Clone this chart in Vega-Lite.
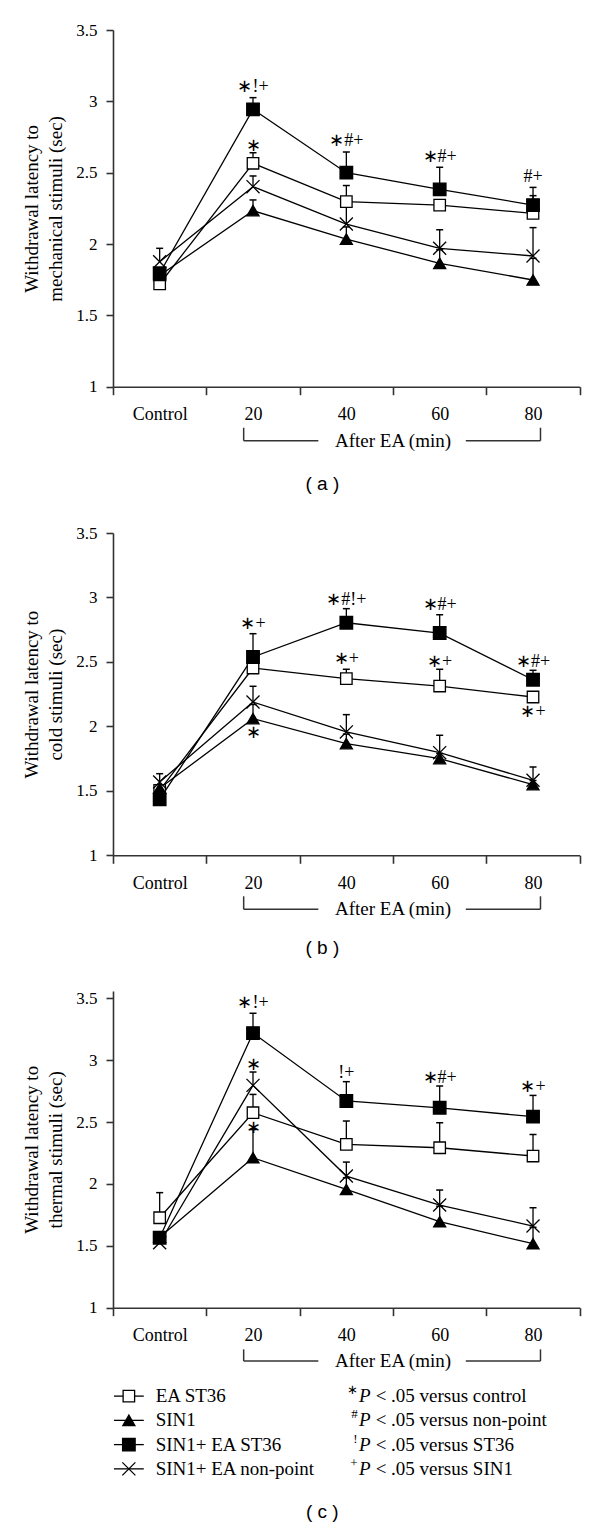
{
  "$schema": "https://vega.github.io/schema/vega-lite/v6.json",
  "background": "white",
  "padding": {"left": 22, "top": 21, "right": 5, "bottom": 5},
  "config": {
    "font": "Liberation Serif",
    "view": {"stroke": null},
    "axis": {"domainColor": "#333", "domainWidth": 1.6, "tickColor": "#333", "tickWidth": 1.6, "labelColor": "black", "labelFont": "Liberation Serif", "labelFontSize": 17, "titleFont": "Liberation Serif", "titleFontSize": 19, "titleFontWeight": "normal", "titleColor": "black", "grid": false},
    "axisY": {"tickSize": 7, "labelPadding": 9, "titlePadding": 10, "titleLineHeight": 24},
    "axisX": {"tickSize": 8, "labelPadding": 11, "labelAngle": 0, "tickBand": "extent", "labelFontSize": 18},
    "title": {"font": "Liberation Sans", "fontSize": 19, "fontWeight": "normal", "color": "black"},
    "text": {"font": "Liberation Serif", "color": "black"}
  },
  "datasets": {
    "means": [
      {"panel": "a", "series": "EA ST36", "time": "Control", "mean": 1.72, "upper": null},
      {"panel": "a", "series": "EA ST36", "time": "20", "mean": 2.566, "upper": 2.64},
      {"panel": "a", "series": "EA ST36", "time": "40", "mean": 2.297, "upper": 2.41},
      {"panel": "a", "series": "EA ST36", "time": "60", "mean": 2.273, "upper": null},
      {"panel": "a", "series": "EA ST36", "time": "80", "mean": 2.215, "upper": 2.339},
      {"panel": "a", "series": "SIN1", "time": "Control", "mean": 1.78, "upper": null},
      {"panel": "a", "series": "SIN1", "time": "20", "mean": 2.234, "upper": 2.309},
      {"panel": "a", "series": "SIN1", "time": "40", "mean": 2.035, "upper": 2.12},
      {"panel": "a", "series": "SIN1", "time": "60", "mean": 1.865, "upper": 1.96},
      {"panel": "a", "series": "SIN1", "time": "80", "mean": 1.748, "upper": 1.9},
      {"panel": "a", "series": "SIN1+ EA ST36", "time": "Control", "mean": 1.795, "upper": null},
      {"panel": "a", "series": "SIN1+ EA ST36", "time": "20", "mean": 2.944, "upper": 3.026},
      {"panel": "a", "series": "SIN1+ EA ST36", "time": "40", "mean": 2.5, "upper": 2.645},
      {"panel": "a", "series": "SIN1+ EA ST36", "time": "60", "mean": 2.383, "upper": 2.538},
      {"panel": "a", "series": "SIN1+ EA ST36", "time": "80", "mean": 2.273, "upper": 2.397},
      {"panel": "a", "series": "SIN1+ EA non-point", "time": "Control", "mean": 1.876, "upper": 1.97},
      {"panel": "a", "series": "SIN1+ EA non-point", "time": "20", "mean": 2.402, "upper": 2.477},
      {"panel": "a", "series": "SIN1+ EA non-point", "time": "40", "mean": 2.14, "upper": 2.28},
      {"panel": "a", "series": "SIN1+ EA non-point", "time": "60", "mean": 1.97, "upper": 2.1},
      {"panel": "a", "series": "SIN1+ EA non-point", "time": "80", "mean": 1.916, "upper": 2.115},

      {"panel": "b", "series": "EA ST36", "time": "Control", "mean": 1.504, "upper": null},
      {"panel": "b", "series": "EA ST36", "time": "20", "mean": 2.453, "upper": null},
      {"panel": "b", "series": "EA ST36", "time": "40", "mean": 2.37, "upper": 2.443},
      {"panel": "b", "series": "EA ST36", "time": "60", "mean": 2.313, "upper": 2.443},
      {"panel": "b", "series": "EA ST36", "time": "80", "mean": 2.228, "upper": null},
      {"panel": "b", "series": "SIN1", "time": "Control", "mean": 1.52, "upper": null},
      {"panel": "b", "series": "SIN1", "time": "20", "mean": 2.06, "upper": 2.17},
      {"panel": "b", "series": "SIN1", "time": "40", "mean": 1.866, "upper": 1.94},
      {"panel": "b", "series": "SIN1", "time": "60", "mean": 1.75, "upper": 1.79},
      {"panel": "b", "series": "SIN1", "time": "80", "mean": 1.548, "upper": 1.58},
      {"panel": "b", "series": "SIN1+ EA ST36", "time": "Control", "mean": 1.434, "upper": null},
      {"panel": "b", "series": "SIN1+ EA ST36", "time": "20", "mean": 2.538, "upper": 2.719},
      {"panel": "b", "series": "SIN1+ EA ST36", "time": "40", "mean": 2.804, "upper": 2.913},
      {"panel": "b", "series": "SIN1+ EA ST36", "time": "60", "mean": 2.724, "upper": 2.866},
      {"panel": "b", "series": "SIN1+ EA ST36", "time": "80", "mean": 2.362, "upper": 2.435},
      {"panel": "b", "series": "SIN1+ EA non-point", "time": "Control", "mean": 1.569, "upper": 1.633},
      {"panel": "b", "series": "SIN1+ EA non-point", "time": "20", "mean": 2.189, "upper": 2.311},
      {"panel": "b", "series": "SIN1+ EA non-point", "time": "40", "mean": 1.957, "upper": 2.091},
      {"panel": "b", "series": "SIN1+ EA non-point", "time": "60", "mean": 1.796, "upper": 1.931},
      {"panel": "b", "series": "SIN1+ EA non-point", "time": "80", "mean": 1.582, "upper": 1.685},

      {"panel": "c", "series": "EA ST36", "time": "Control", "mean": 1.727, "upper": 1.93},
      {"panel": "c", "series": "EA ST36", "time": "20", "mean": 2.576, "upper": 2.724},
      {"panel": "c", "series": "EA ST36", "time": "40", "mean": 2.32, "upper": 2.509},
      {"panel": "c", "series": "EA ST36", "time": "60", "mean": 2.293, "upper": 2.495},
      {"panel": "c", "series": "EA ST36", "time": "80", "mean": 2.226, "upper": 2.4},
      {"panel": "c", "series": "SIN1", "time": "Control", "mean": 1.57, "upper": null},
      {"panel": "c", "series": "SIN1", "time": "20", "mean": 2.212, "upper": 2.44},
      {"panel": "c", "series": "SIN1", "time": "40", "mean": 1.956, "upper": 2.05},
      {"panel": "c", "series": "SIN1", "time": "60", "mean": 1.695, "upper": 1.82},
      {"panel": "c", "series": "SIN1", "time": "80", "mean": 1.517, "upper": 1.65},
      {"panel": "c", "series": "SIN1+ EA ST36", "time": "Control", "mean": 1.565, "upper": null},
      {"panel": "c", "series": "SIN1+ EA ST36", "time": "20", "mean": 3.22, "upper": 3.38},
      {"panel": "c", "series": "SIN1+ EA ST36", "time": "40", "mean": 2.671, "upper": 2.827},
      {"panel": "c", "series": "SIN1+ EA ST36", "time": "60", "mean": 2.616, "upper": 2.792},
      {"panel": "c", "series": "SIN1+ EA ST36", "time": "80", "mean": 2.544, "upper": 2.716},
      {"panel": "c", "series": "SIN1+ EA non-point", "time": "Control", "mean": 1.525, "upper": null},
      {"panel": "c", "series": "SIN1+ EA non-point", "time": "20", "mean": 2.797, "upper": 2.905},
      {"panel": "c", "series": "SIN1+ EA non-point", "time": "40", "mean": 2.064, "upper": 2.177},
      {"panel": "c", "series": "SIN1+ EA non-point", "time": "60", "mean": 1.83, "upper": 1.951},
      {"panel": "c", "series": "SIN1+ EA non-point", "time": "80", "mean": 1.66, "upper": 1.808}
    ],
    "notes": [
      {"panel": "a", "time": "20", "label": "∗!+", "y": 3.098},
      {"panel": "a", "time": "20", "label": "∗", "y": 2.687},
      {"panel": "a", "time": "40", "label": "∗#+", "y": 2.724},
      {"panel": "a", "time": "60", "label": "∗#+", "y": 2.612},
      {"panel": "a", "time": "80", "label": "#+", "y": 2.468},
      {"panel": "b", "time": "20", "label": "∗+", "y": 2.794},
      {"panel": "b", "time": "20", "label": "∗", "y": 1.951},
      {"panel": "b", "time": "40", "label": "∗#!+", "y": 2.978},
      {"panel": "b", "time": "40", "label": "∗+", "y": 2.525},
      {"panel": "b", "time": "60", "label": "∗#+", "y": 2.944},
      {"panel": "b", "time": "60", "label": "∗+", "y": 2.5},
      {"panel": "b", "time": "80", "label": "∗#+", "y": 2.5},
      {"panel": "b", "time": "80", "label": "∗+", "y": 2.112},
      {"panel": "c", "time": "20", "label": "∗!+", "y": 3.46},
      {"panel": "c", "time": "20", "label": "∗", "y": 2.958},
      {"panel": "c", "time": "20", "label": "∗", "y": 2.455},
      {"panel": "c", "time": "40", "label": "!+", "y": 2.9},
      {"panel": "c", "time": "60", "label": "∗#+", "y": 2.859},
      {"panel": "c", "time": "80", "label": "∗+", "y": 2.786}
    ],
    "legend": [
      {"series": "EA ST36", "sym": "∗", "note": "< .05 versus control"},
      {"series": "SIN1", "sym": "#", "note": "< .05 versus non-point"},
      {"series": "SIN1+ EA ST36", "sym": "!", "note": "< .05 versus ST36"},
      {"series": "SIN1+ EA non-point", "sym": "+", "note": "< .05 versus SIN1"}
    ]
  },
  "spacing": 30,
  "vconcat": [
    {
      "width": 466.7, "height": 356.7,
      "title": {"text": "( a )", "orient": "bottom", "frame": "group", "anchor": "middle", "dx": -24, "offset": 24},
      "layer": [
        {
          "data": {"name": "means"},
          "transform": [{"filter": "datum.panel == 'a'"}],
          "encoding": {
            "x": {"field": "time", "type": "nominal", "sort": ["Control", "20", "40", "60", "80"], "scale": {"type": "band", "domain": ["Control", "20", "40", "60", "80"], "paddingInner": 0, "paddingOuter": 0}, "axis": {"title": null}},
            "y": {"field": "mean", "type": "quantitative", "scale": {"domain": [1, 3.5], "nice": false, "zero": false}, "axis": {"values": [1, 1.5, 2, 2.5, 3, 3.5], "format": "~g", "title": ["Withdrawal latency to", "mechanical stimuli (sec)"]}}
          },
          "layer": [
            {"mark": {"type": "line", "color": "black", "strokeWidth": 1.3}, "encoding": {"detail": {"field": "series"}}},
            {"transform": [{"filter": "datum.upper != null"}], "mark": {"type": "rule", "color": "black", "strokeWidth": 1.3}, "encoding": {"y2": {"field": "upper"}}},
            {"transform": [{"filter": "datum.upper != null"}], "mark": {"type": "tick", "color": "black", "size": 7, "thickness": 1.5, "opacity": 1}, "encoding": {"y": {"field": "upper", "type": "quantitative"}}},
            {"mark": {"type": "point", "filled": true, "stroke": "black", "strokeWidth": 1.3, "opacity": 1},
             "encoding": {
               "shape": {"field": "series", "type": "nominal", "scale": {"domain": ["EA ST36", "SIN1", "SIN1+ EA ST36", "SIN1+ EA non-point"], "range": ["square", "triangle-up", "square", "M-1,-1L1,1M-1,1L1,-1"]}, "legend": null},
               "fill": {"field": "series", "type": "nominal", "scale": {"domain": ["EA ST36", "SIN1", "SIN1+ EA ST36", "SIN1+ EA non-point"], "range": ["white", "black", "black", "transparent"]}, "legend": null},
               "size": {"field": "series", "type": "nominal", "scale": {"domain": ["EA ST36", "SIN1", "SIN1+ EA ST36", "SIN1+ EA non-point"], "range": [132, 170, 132, 144]}, "legend": null}
             }}
          ]
        },
        {
          "data": {"name": "notes"},
          "transform": [{"filter": "datum.panel == 'a'"}],
          "mark": {"type": "text", "fontSize": 18, "baseline": "middle"},
          "encoding": {"x": {"field": "time", "type": "nominal"}, "y": {"field": "y", "type": "quantitative"}, "text": {"field": "label"}}
        },
        {
          "data": {"values": [{}]},
          "layer": [
            {"mark": {"type": "rule", "color": "#333", "strokeWidth": 1.5}, "encoding": {"x": {"datum": "20", "type": "nominal", "bandPosition": 0.4}, "y": {"datum": 0.6215, "type": "quantitative"}, "y2": {"datum": 0.7126}}},
            {"mark": {"type": "rule", "color": "#333", "strokeWidth": 1.5}, "encoding": {"x": {"datum": "20", "type": "nominal", "bandPosition": 0.4}, "x2": {"datum": "40", "bandPosition": 0.2}, "y": {"datum": 0.6215, "type": "quantitative"}}},
            {"mark": {"type": "rule", "color": "#333", "strokeWidth": 1.5}, "encoding": {"x": {"datum": "60", "type": "nominal", "bandPosition": 0.78}, "x2": {"datum": "80", "bandPosition": 0.58}, "y": {"datum": 0.6215, "type": "quantitative"}}},
            {"mark": {"type": "rule", "color": "#333", "strokeWidth": 1.5}, "encoding": {"x": {"datum": "80", "type": "nominal", "bandPosition": 0.58}, "y": {"datum": 0.6215, "type": "quantitative"}, "y2": {"datum": 0.7126}}},
            {"mark": {"type": "text", "fontSize": 19, "baseline": "middle"}, "encoding": {"x": {"datum": "60", "type": "nominal", "bandPosition": 0}, "y": {"datum": 0.6215, "type": "quantitative"}, "text": {"value": "After EA (min)"}}}
          ]
        }
      ]
    },
    {
      "width": 466.7, "height": 322.3,
      "title": {"text": "( b )", "orient": "bottom", "frame": "group", "anchor": "middle", "dx": -24, "offset": 20},
      "layer": [
        {
          "data": {"name": "means"},
          "transform": [{"filter": "datum.panel == 'b'"}],
          "encoding": {
            "x": {"field": "time", "type": "nominal", "sort": ["Control", "20", "40", "60", "80"], "scale": {"type": "band", "domain": ["Control", "20", "40", "60", "80"], "paddingInner": 0, "paddingOuter": 0}, "axis": {"title": null}},
            "y": {"field": "mean", "type": "quantitative", "scale": {"domain": [1, 3.5], "nice": false, "zero": false}, "axis": {"values": [1, 1.5, 2, 2.5, 3, 3.5], "format": "~g", "title": ["Withdrawal latency to", "cold stimuli (sec)"]}}
          },
          "layer": [
            {"mark": {"type": "line", "color": "black", "strokeWidth": 1.3}, "encoding": {"detail": {"field": "series"}}},
            {"transform": [{"filter": "datum.upper != null"}], "mark": {"type": "rule", "color": "black", "strokeWidth": 1.3}, "encoding": {"y2": {"field": "upper"}}},
            {"transform": [{"filter": "datum.upper != null"}], "mark": {"type": "tick", "color": "black", "size": 7, "thickness": 1.5, "opacity": 1}, "encoding": {"y": {"field": "upper", "type": "quantitative"}}},
            {"mark": {"type": "point", "filled": true, "stroke": "black", "strokeWidth": 1.3, "opacity": 1},
             "encoding": {
               "shape": {"field": "series", "type": "nominal", "scale": {"domain": ["EA ST36", "SIN1", "SIN1+ EA ST36", "SIN1+ EA non-point"], "range": ["square", "triangle-up", "square", "M-1,-1L1,1M-1,1L1,-1"]}, "legend": null},
               "fill": {"field": "series", "type": "nominal", "scale": {"domain": ["EA ST36", "SIN1", "SIN1+ EA ST36", "SIN1+ EA non-point"], "range": ["white", "black", "black", "transparent"]}, "legend": null},
               "size": {"field": "series", "type": "nominal", "scale": {"domain": ["EA ST36", "SIN1", "SIN1+ EA ST36", "SIN1+ EA non-point"], "range": [132, 170, 132, 144]}, "legend": null}
             }}
          ]
        },
        {
          "data": {"name": "notes"},
          "transform": [{"filter": "datum.panel == 'b'"}],
          "mark": {"type": "text", "fontSize": 18, "baseline": "middle"},
          "encoding": {"x": {"field": "time", "type": "nominal"}, "y": {"field": "y", "type": "quantitative"}, "text": {"field": "label"}}
        },
        {
          "data": {"values": [{}]},
          "layer": [
            {"mark": {"type": "rule", "color": "#333", "strokeWidth": 1.5}, "encoding": {"x": {"datum": "20", "type": "nominal", "bandPosition": 0.4}, "y": {"datum": 0.581, "type": "quantitative"}, "y2": {"datum": 0.682}}},
            {"mark": {"type": "rule", "color": "#333", "strokeWidth": 1.5}, "encoding": {"x": {"datum": "20", "type": "nominal", "bandPosition": 0.4}, "x2": {"datum": "40", "bandPosition": 0.2}, "y": {"datum": 0.581, "type": "quantitative"}}},
            {"mark": {"type": "rule", "color": "#333", "strokeWidth": 1.5}, "encoding": {"x": {"datum": "60", "type": "nominal", "bandPosition": 0.78}, "x2": {"datum": "80", "bandPosition": 0.58}, "y": {"datum": 0.581, "type": "quantitative"}}},
            {"mark": {"type": "rule", "color": "#333", "strokeWidth": 1.5}, "encoding": {"x": {"datum": "80", "type": "nominal", "bandPosition": 0.58}, "y": {"datum": 0.581, "type": "quantitative"}, "y2": {"datum": 0.682}}},
            {"mark": {"type": "text", "fontSize": 19, "baseline": "middle"}, "encoding": {"x": {"datum": "60", "type": "nominal", "bandPosition": 0}, "y": {"datum": 0.581, "type": "quantitative"}, "text": {"value": "After EA (min)"}}}
          ]
        }
      ]
    },
    {
      "spacing": 12,
      "vconcat": [
        {
          "width": 466.7, "height": 316.7,
          "layer": [
            {
              "data": {"name": "means"},
              "transform": [{"filter": "datum.panel == 'c'"}],
              "encoding": {
                "x": {"field": "time", "type": "nominal", "sort": ["Control", "20", "40", "60", "80"], "scale": {"type": "band", "domain": ["Control", "20", "40", "60", "80"], "paddingInner": 0, "paddingOuter": 0}, "axis": {"title": null}},
                "y": {"field": "mean", "type": "quantitative", "scale": {"domain": [1, 3.56], "nice": false, "zero": false}, "axis": {"values": [1, 1.5, 2, 2.5, 3, 3.5], "format": "~g", "title": ["Withdrawal latency to", "thermal stimuli (sec)"]}}
              },
              "layer": [
                {"mark": {"type": "line", "color": "black", "strokeWidth": 1.3}, "encoding": {"detail": {"field": "series"}}},
                {"transform": [{"filter": "datum.upper != null"}], "mark": {"type": "rule", "color": "black", "strokeWidth": 1.3}, "encoding": {"y2": {"field": "upper"}}},
                {"transform": [{"filter": "datum.upper != null"}], "mark": {"type": "tick", "color": "black", "size": 7, "thickness": 1.5, "opacity": 1}, "encoding": {"y": {"field": "upper", "type": "quantitative"}}},
                {"mark": {"type": "point", "filled": true, "stroke": "black", "strokeWidth": 1.3, "opacity": 1},
                 "encoding": {
                   "shape": {"field": "series", "type": "nominal", "scale": {"domain": ["EA ST36", "SIN1", "SIN1+ EA ST36", "SIN1+ EA non-point"], "range": ["square", "triangle-up", "square", "M-1,-1L1,1M-1,1L1,-1"]}, "legend": null},
                   "fill": {"field": "series", "type": "nominal", "scale": {"domain": ["EA ST36", "SIN1", "SIN1+ EA ST36", "SIN1+ EA non-point"], "range": ["white", "black", "black", "transparent"]}, "legend": null},
                   "size": {"field": "series", "type": "nominal", "scale": {"domain": ["EA ST36", "SIN1", "SIN1+ EA ST36", "SIN1+ EA non-point"], "range": [132, 170, 132, 144]}, "legend": null}
                 }}
              ]
            },
            {
              "data": {"name": "notes"},
              "transform": [{"filter": "datum.panel == 'c'"}],
              "mark": {"type": "text", "fontSize": 18, "baseline": "middle"},
              "encoding": {"x": {"field": "time", "type": "nominal"}, "y": {"field": "y", "type": "quantitative"}, "text": {"field": "label"}}
            },
            {
              "data": {"values": [{}]},
              "layer": [
                {"mark": {"type": "rule", "color": "#333", "strokeWidth": 1.5}, "encoding": {"x": {"datum": "20", "type": "nominal", "bandPosition": 0.4}, "y": {"datum": 0.569, "type": "quantitative"}, "y2": {"datum": 0.663}}},
                {"mark": {"type": "rule", "color": "#333", "strokeWidth": 1.5}, "encoding": {"x": {"datum": "20", "type": "nominal", "bandPosition": 0.4}, "x2": {"datum": "40", "bandPosition": 0.2}, "y": {"datum": 0.569, "type": "quantitative"}}},
                {"mark": {"type": "rule", "color": "#333", "strokeWidth": 1.5}, "encoding": {"x": {"datum": "60", "type": "nominal", "bandPosition": 0.78}, "x2": {"datum": "80", "bandPosition": 0.58}, "y": {"datum": 0.569, "type": "quantitative"}}},
                {"mark": {"type": "rule", "color": "#333", "strokeWidth": 1.5}, "encoding": {"x": {"datum": "80", "type": "nominal", "bandPosition": 0.58}, "y": {"datum": 0.569, "type": "quantitative"}, "y2": {"datum": 0.663}}},
                {"mark": {"type": "text", "fontSize": 19, "baseline": "middle"}, "encoding": {"x": {"datum": "60", "type": "nominal", "bandPosition": 0}, "y": {"datum": 0.569, "type": "quantitative"}, "text": {"value": "After EA (min)"}}}
              ]
            }
          ]
        },
        {
          "width": 466.7, "height": 97,
          "title": {"text": "( c )", "orient": "bottom", "frame": "group", "anchor": "middle", "dx": -24, "offset": 22},
          "data": {"name": "legend"},
          "encoding": {"y": {"field": "series", "type": "nominal", "scale": {"type": "point", "domain": ["EA ST36", "SIN1", "SIN1+ EA ST36", "SIN1+ EA non-point"], "padding": 0.5}, "axis": null}},
          "layer": [
            {"mark": {"type": "rule", "color": "black", "strokeWidth": 1.3}, "encoding": {"x": {"datum": "Control", "type": "nominal", "bandPosition": 0.01, "scale": {"type": "band", "domain": ["Control", "20", "40", "60", "80"], "paddingInner": 0, "paddingOuter": 0}, "axis": null}, "x2": {"datum": "Control", "bandPosition": 0.33}}},
            {"mark": {"type": "point", "filled": true, "stroke": "black", "strokeWidth": 1.3, "opacity": 1},
             "encoding": {
               "x": {"datum": "Control", "type": "nominal", "bandPosition": 0.17, "axis": null},
               "shape": {"field": "series", "type": "nominal", "scale": {"domain": ["EA ST36", "SIN1", "SIN1+ EA ST36", "SIN1+ EA non-point"], "range": ["square", "triangle-up", "square", "M-1,-1L1,1M-1,1L1,-1"]}, "legend": null},
               "fill": {"field": "series", "type": "nominal", "scale": {"domain": ["EA ST36", "SIN1", "SIN1+ EA ST36", "SIN1+ EA non-point"], "range": ["white", "black", "black", "transparent"]}, "legend": null},
               "size": {"field": "series", "type": "nominal", "scale": {"domain": ["EA ST36", "SIN1", "SIN1+ EA ST36", "SIN1+ EA non-point"], "range": [132, 170, 132, 144]}, "legend": null}
             }},
            {"mark": {"type": "text", "align": "left", "fontSize": 19, "baseline": "middle"}, "encoding": {"x": {"datum": "Control", "type": "nominal", "bandPosition": 0.457, "axis": null}, "text": {"field": "series"}}},
            {"mark": {"type": "text", "align": "right", "fontSize": 13, "baseline": "middle", "dy": -6}, "encoding": {"x": {"datum": "40", "type": "nominal", "bandPosition": 0.621, "axis": null}, "text": {"field": "sym"}}},
            {"mark": {"type": "text", "align": "left", "fontSize": 19, "fontStyle": "italic", "baseline": "middle"}, "encoding": {"x": {"datum": "40", "type": "nominal", "bandPosition": 0.635, "axis": null}, "text": {"value": "P"}}},
            {"mark": {"type": "text", "align": "left", "fontSize": 19, "baseline": "middle"}, "encoding": {"x": {"datum": "40", "type": "nominal", "bandPosition": 0.814, "axis": null}, "text": {"field": "note"}}}
          ]
        }
      ]
    }
  ]
}
